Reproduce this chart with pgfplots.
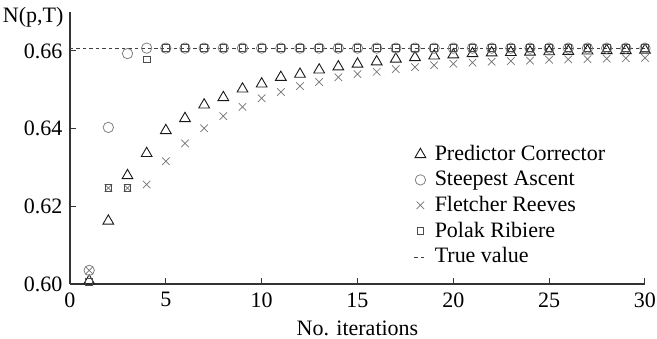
\documentclass[border=0pt]{standalone}
\usepackage{pgfplots}
\pgfplotsset{compat=1.18}
\usepackage{fontspec}
\setmainfont{Liberation Serif}
\pgfplotstableread{
x pc sa fr pr
1 0.6008 0.6035 0.6035 0.6005
2 0.6162 0.6403 0.6247 0.6247
3 0.6279 0.6593 0.6247 0.6247
4 0.6336 0.6607 0.6256 0.6578
5 0.6395 0.6607 0.6316 0.6607
6 0.6426 0.6607 0.6362 0.6607
7 0.6461 0.6607 0.6401 0.6607
8 0.6480 0.6607 0.6432 0.6607
9 0.6502 0.6607 0.6456 0.6607
10 0.6515 0.6607 0.6478 0.6607
11 0.6532 0.6607 0.6494 0.6607
12 0.6540 0.6607 0.6509 0.6607
13 0.6551 0.6607 0.6520 0.6607
14 0.6559 0.6607 0.6532 0.6607
15 0.6566 0.6607 0.6540 0.6607
16 0.6572 0.6607 0.6546 0.6607
17 0.6579 0.6607 0.6553 0.6607
18 0.6583 0.6607 0.6558 0.6607
19 0.6587 0.6607 0.6563 0.6607
20 0.6590 0.6607 0.6567 0.6607
21 0.6593 0.6607 0.6570 0.6607
22 0.6595 0.6607 0.6572 0.6607
23 0.6596 0.6607 0.6574 0.6607
24 0.6597 0.6607 0.6575 0.6607
25 0.6598 0.6607 0.6577 0.6607
26 0.6599 0.6607 0.6578 0.6607
27 0.6600 0.6607 0.6579 0.6607
28 0.6601 0.6607 0.6580 0.6607
29 0.6601 0.6607 0.6581 0.6607
30 0.6602 0.6607 0.6582 0.6607
}\datatable
\begin{document}
\fontsize{22}{26}\selectfont
\begin{tikzpicture}
\useasboundingbox (-70pt,-55pt) rectangle (587pt,284pt);
\begin{axis}[
  at={(0,0)}, anchor=south west,
  scale only axis, width=575pt, height=272pt,
  xmin=0, xmax=30, ymin=0.60, ymax=0.67,
  axis lines=left,
  axis line style={-, line width=1.2pt, black!80},
  tick style={line width=1pt, black!80},
  tick align=inside, major tick length=6pt,
  xtick={0,5,...,30},
  ytick={0.60,0.62,0.64,0.66},
  yticklabel style={/pgf/number format/fixed, /pgf/number format/fixed zerofill, /pgf/number format/precision=2},
  /pgf/number format/assume math mode=true,
  xticklabel style={yshift=-1pt},
  xlabel={No. iterations},
  xlabel style={inner sep=0pt, text depth=0pt, yshift=-6pt},
  ylabel={N(p,T)},
  every axis y label/.style={at={(rel axis cs:0,1)}, anchor=east, yshift=-5pt, xshift=1pt},
  clip=false,
  legend style={at={(rel axis cs:0.598,0.522)}, anchor=north west, draw=none, fill=none,
    row sep=1.2pt, inner sep=0pt, nodes={inner sep=3pt}},
  legend cell align=left,
  legend image code/.code={\draw[mark repeat=2,mark phase=2,#1] plot coordinates {(0pt,0pt)(6pt,0pt)(12pt,0pt)};\path (17pt,0pt);},
]
\addplot[only marks, mark=triangle, mark size=6.2pt, mark options={line width=0.9pt, black!90}] table[x=x, y=pc] {\datatable};
\addlegendentry{Predictor Corrector}
\addplot[only marks, mark=o, mark size=5.2pt, mark options={line width=0.8pt, black!50}] table[x=x, y=sa] {\datatable};
\addlegendentry{Steepest Ascent}
\addplot[only marks, mark=x, mark size=5.3pt, mark options={line width=0.7pt, black!55}] table[x=x, y=fr] {\datatable};
\addlegendentry{Fletcher Reeves}
\addplot[only marks, mark=square, mark size=3.3pt, mark options={line width=0.8pt, black!70}] table[x=x, y=pr] {\datatable};
\addlegendentry{Polak Ribiere}
\addplot[no marks, dash pattern=on 3.5pt off 3pt, line width=0.7pt, black!75] coordinates {(0,0.6607) (30,0.6607)};
\addlegendentry{True value}
\end{axis}
\end{tikzpicture}
\end{document}
